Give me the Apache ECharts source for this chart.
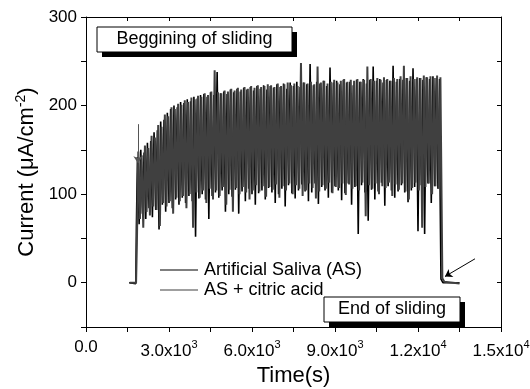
<!DOCTYPE html>
<html>
<head>
<meta charset="utf-8">
<script src="https://cdn.jsdelivr.net/npm/echarts@6/dist/echarts.min.js"></script>
<style>
  html, body { margin: 0; padding: 0; background: #fff; }
  #chart { width: 530px; height: 389px; }
</style>
</head>
<body>
<div id="chart"></div>
<script>
// Current transient recorded during sliding (µA/cm²) vs. time (s)
const seriesNames = ['Artificial Saliva (AS)', 'AS + citric acid'];

// Sampling of the oscillating current: peaks and troughs alternate every `step` seconds
const step = 60;

// Artificial Saliva (AS)
const asStart = 1860;
const asHigh = [142,150,147,158,160,170,172,182,184,192,
  196,200,198,204,203,207,205,210,208,212,
  213,210,215,212,238,214,216,213,218,215,
  219,216,220,218,221,217,222,219,223,218,
  222,220,224,221,225,219,226,222,227,221,
  226,224,247,223,227,225,228,222,243,226,
  228,224,229,226,227,223,229,227,230,225,
  229,244,228,230,226,229,228,245,227,230,
  229,231,228,242,230,231,229,232,230,233,
  231,230];
const asLow = [66,78,72,84,74,82,60,88,80,90,
  84,94,88,96,90,98,92,52,95,100,
  94,72,98,102,96,104,80,100,97,105,
  78,103,92,106,100,88,101,104,94,107,
  102,90,100,106,86,110,101,95,104,111,
  103,92,102,112,89,108,104,96,102,109,
  104,93,101,112,88,108,55,110,102,70,
  105,94,103,113,87,109,104,96,103,110,
  102,91,104,108,58,110,55,112,90,109,
  106];
const asHeadT = [1560, 1800, 1820];
const asHeadV = [0, -1, 60];
const asTailT = [12800, 12830, 12900, 13500];
const asTailV = [98, 4, 0, 0];

// AS + citric acid
const caStart = 1890;
const caHigh = [148,144,155,152,166,164,178,176,190,188,
  198,196,202,201,206,204,209,207,211,210,
  214,212,216,240,215,214,217,216,219,217,
  220,218,221,219,222,220,223,221,222,224,
  223,221,225,222,224,226,223,225,222,248,
  226,225,227,224,244,226,228,225,227,229,
  226,228,230,227,229,228,230,227,229,244,
  230,228,231,229,232,230,228,231,230,233,
  245,231,233,230,232,231,234,232,233,231,
  234,232];
const caLow = [72,62,80,76,86,82,64,90,86,92,
  78,96,92,98,84,100,62,102,96,104,
  90,106,94,104,98,108,88,105,80,107,
  100,108,102,94,104,110,103,109,97,108,
  105,111,96,109,104,112,100,110,106,98,
  104,112,107,95,103,110,106,113,101,108,
  107,112,99,111,106,109,104,113,75,110,
  106,112,100,109,107,113,98,111,105,112,
  103,94,107,113,104,62,108,112,100,109,
  106];
const caHeadT = [1580, 1810, 1840];
const caHeadV = [0, 0, 45];
const caTailT = [12850, 12880, 12950, 13500];
const caTailV = [102, 5, 1, -1];

// Axis ticks
const xTicks = [0, 3000, 6000, 9000, 12000, 15000];
const xTickMain = ['0.0', '3.0x10', '6.0x10', '9.0x10', '1.2x10', '1.5x10'];
const xTickExp = ['', '3', '3', '3', '4', '4'];
const yTicks = [0, 100, 200, 300];

function buildSeries(headT, headV, start, highs, lows, tailT, tailV) {
  const pts = [];
  headT.forEach((t, i) => pts.push([t, headV[i]]));
  const n = highs.length + lows.length;
  for (let i = 0; i < n; i++) {
    const v = (i % 2 === 0) ? highs[i >> 1] : lows[i >> 1];
    pts.push([start + i * step, v]);
  }
  tailT.forEach((t, i) => pts.push([t, tailV[i]]));
  return pts;
}

const asData = buildSeries(asHeadT, asHeadV, asStart, asHigh, asLow, asTailT, asTailV);
const caData = buildSeries(caHeadT, caHeadV, caStart, caHigh, caLow, caTailT, caTailV);

const FONT = 'Arial, "Liberation Sans", sans-serif';
const supRich = {
  n: { fontSize: 17, fontFamily: FONT, color: '#000', verticalAlign: 'bottom' },
  s: { fontSize: 11, fontFamily: FONT, color: '#000', verticalAlign: 'bottom', padding: [0, 0, 10, 0] }
};

const chart = echarts.init(document.getElementById('chart'), null, { renderer: 'canvas' });

// Text box with a solid drop shadow
function shadowBox(x, y, w, h, text) {
  return {
    type: 'group',
    children: [
      { type: 'rect', shape: { x: x + 5, y: y + 5, width: w, height: h }, style: { fill: '#000' } },
      { type: 'rect', shape: { x: x, y: y, width: w, height: h }, style: { fill: '#fff', stroke: '#000', lineWidth: 1 } },
      { type: 'text', x: x + w / 2, y: y + h / 2, style: { text: text, fontSize: 18, fontFamily: FONT, fill: '#000', align: 'center', verticalAlign: 'middle' } }
    ]
  };
}

chart.setOption({
  animation: false,
  backgroundColor: '#fff',
  grid: { left: 86, right: 29, top: 17, bottom: 62, containLabel: false, outerBoundsMode: 'none' },
  legend: {
    data: seriesNames,
    orient: 'vertical',
    left: 155,
    top: 256,
    icon: 'rect',
    itemWidth: 38,
    itemHeight: 1.2,
    itemGap: 2,
    textStyle: { fontSize: 18, fontFamily: FONT, color: '#000', padding: [0, 0, 0, 1] },
    selectedMode: false
  },
  xAxis: [{
    type: 'value',
    min: 0, max: 15000, interval: 3000,
    position: 'bottom',
    axisLine: { onZero: false, lineStyle: { color: '#000', width: 1 } },
    axisTick: { inside: false, length: 5, lineStyle: { color: '#000' } },
    minorTick: { show: true, splitNumber: 2, length: 5, lineStyle: { color: '#000' } },
    splitLine: { show: false },
    axisLabel: {
      margin: 12,
      showMaxLabel: true,
      formatter: v => {
        const i = xTicks.indexOf(v);
        if (i < 0) return '';
        return '{n|' + xTickMain[i] + '}' + (xTickExp[i] ? '{s|' + xTickExp[i] + '}' : '');
      },
      rich: supRich
    },
    name: 'Time(s)',
    nameLocation: 'middle',
    nameGap: 36,
    nameTextStyle: { fontSize: 22, fontFamily: FONT, color: '#000' }
  }, {
    type: 'value',
    min: 0, max: 15000, interval: 1500,
    position: 'top',
    axisLine: { onZero: false, lineStyle: { color: '#000', width: 1 } },
    axisTick: { inside: true, length: 4, lineStyle: { color: '#000' } },
    axisLabel: { show: false },
    splitLine: { show: false }
  }],
  yAxis: [{
    type: 'value',
    min: -50, max: 300, interval: 50,
    position: 'left',
    axisLine: { onZero: false, lineStyle: { color: '#000', width: 1 } },
    axisTick: { inside: false, length: 5, lineStyle: { color: '#000' } },
    splitLine: { show: false },
    axisLabel: {
      margin: 9,
      fontSize: 17, fontFamily: FONT, color: '#000',
      formatter: v => yTicks.indexOf(v) >= 0 ? String(v) : ''
    },
    name: 'Current (μA/cm{s|-2})',
    nameLocation: 'middle',
    nameGap: 42,
    nameTextStyle: {
      fontSize: 22, fontFamily: FONT, color: '#000',
      rich: {
        s: { fontSize: 14, fontFamily: FONT, color: '#000', verticalAlign: 'bottom', padding: [0, 0, 12, 0] }
      }
    }
  }, {
    type: 'value',
    min: -50, max: 300, interval: 50,
    position: 'right',
    axisLine: { onZero: false, lineStyle: { color: '#000', width: 1 } },
    axisTick: { inside: true, length: 4, lineStyle: { color: '#000' } },
    axisLabel: { show: false },
    splitLine: { show: false }
  }],
  series: [{
    name: seriesNames[0],
    type: 'line',
    data: asData,
    xAxisIndex: 0, yAxisIndex: 0,
    showSymbol: false,
    symbol: 'none',
    sampling: false,
    color: '#000',
    lineStyle: { color: '#000', width: 1.6 },
    markLine: {
      silent: true,
      symbol: ['none', 'arrow'],
      symbolSize: 7,
      label: { show: false },
      lineStyle: { type: 'solid', color: '#555', width: 1 },
      data: [
        [{ coord: [1880, 179] }, { coord: [1880, 135] }],
        [{ coord: [14060, 27], lineStyle: { color: '#000' } }, { coord: [12975, 7] }]
      ]
    }
  }, {
    name: seriesNames[1],
    type: 'line',
    data: caData,
    xAxisIndex: 0, yAxisIndex: 0,
    showSymbol: false,
    symbol: 'none',
    sampling: false,
    color: '#404040',
    lineStyle: { color: '#404040', width: 2 }
  }],
  graphic: [
    shadowBox(97, 27, 195, 25, 'Beggining of sliding'),
    shadowBox(324, 297, 136, 25, 'End of sliding')
  ]
});
</script>
</body>
</html>
